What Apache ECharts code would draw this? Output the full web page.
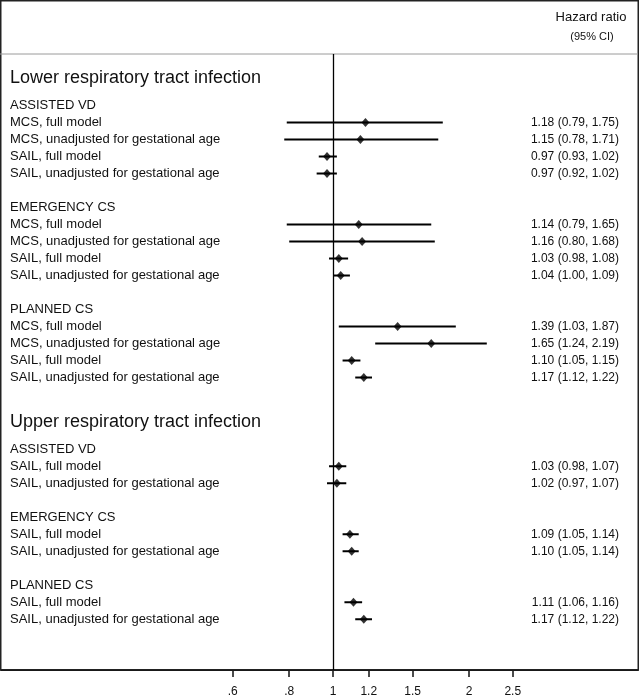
<!DOCTYPE html>
<html>
<head>
<meta charset="utf-8">
<script src="https://cdn.jsdelivr.net/npm/echarts@6/dist/echarts.min.js"></script>
<style>
html,body{margin:0;padding:0;background:#fff;}
#chart{width:640px;height:698px;}
</style>
</head>
<body>
<div id="chart"></div>
<script>
// ---- data ----
const sectionTitles = ['Lower respiratory tract infection', 'Upper respiratory tract infection'];
const groupNames = ['ASSISTED VD', 'EMERGENCY CS', 'PLANNED CS'];
const rowLabels = [
  'MCS, full model', 'MCS, unadjusted for gestational age', 'SAIL, full model', 'SAIL, unadjusted for gestational age',
  'MCS, full model', 'MCS, unadjusted for gestational age', 'SAIL, full model', 'SAIL, unadjusted for gestational age',
  'MCS, full model', 'MCS, unadjusted for gestational age', 'SAIL, full model', 'SAIL, unadjusted for gestational age',
  'SAIL, full model', 'SAIL, unadjusted for gestational age',
  'SAIL, full model', 'SAIL, unadjusted for gestational age',
  'SAIL, full model', 'SAIL, unadjusted for gestational age'
];
const rowSection = [0,0,0,0, 0,0,0,0, 0,0,0,0, 1,1, 1,1, 1,1];
const rowGroup   = [0,0,0,0, 1,1,1,1, 2,2,2,2, 0,0, 1,1, 2,2];
const hr = [1.18,1.15,0.97,0.97, 1.14,1.16,1.03,1.04, 1.39,1.65,1.10,1.17, 1.03,1.02, 1.09,1.10, 1.11,1.17];
const lo = [0.79,0.78,0.93,0.92, 0.79,0.80,0.98,1.00, 1.03,1.24,1.05,1.12, 0.98,0.97, 1.05,1.05, 1.06,1.12];
const hi = [1.75,1.71,1.02,1.02, 1.65,1.68,1.08,1.09, 1.87,2.19,1.15,1.22, 1.07,1.07, 1.14,1.14, 1.16,1.22];
const tickValues = [0.6, 0.8, 1, 1.2, 1.5, 2, 2.5];
const tickLabels = ['.6', '.8', '1', '1.2', '1.5', '2', '2.5'];
const headerLines = ['Hazard ratio', '(95% CI)'];

// ---- layout (row units) ----
const TITLE_START = 1.43, HEADER_AFTER_TITLE = 1.6, GROUP_GAP = 2, SECTION_GAP = 2.62;
const Y_MAX = 616 / 17;
const X_MIN = -332 / 196.2, X_MAX = 305 / 196.2;

const textItems = [];
const rowY = [];
let u = TITLE_START, prevS = -1, prevG = -1;
for (let i = 0; i < rowLabels.length; i++) {
  const s = rowSection[i], g = rowGroup[i];
  if (s !== prevS) {
    if (prevS !== -1) u += SECTION_GAP;
    textItems.push({ y: u, text: sectionTitles[s], kind: 'title' });
    u += HEADER_AFTER_TITLE;
    textItems.push({ y: u, text: groupNames[g], kind: 'group' });
    prevS = s; prevG = g;
  } else if (g !== prevG) {
    u += GROUP_GAP;
    textItems.push({ y: u, text: groupNames[g], kind: 'group' });
    prevG = g;
  }
  u += 1;
  rowY[i] = u;
  textItems.push({ y: u, text: rowLabels[i], kind: 'row' });
}

const FONT = '"Liberation Sans", Arial, sans-serif';
const chart = echarts.init(document.getElementById('chart'), null, { renderer: 'canvas' });

const fmt = v => v.toFixed(2);
const tickLn = tickValues.map(Math.log);

const option = {
  animation: false,
  backgroundColor: '#fff',
  grid: { left: 1, right: 2, top: 54, bottom: 28, containLabel: false },
  xAxis: {
    type: 'value', min: X_MIN, max: X_MAX,
    splitLine: { show: false },
    axisLine: { show: true, onZero: false, lineStyle: { color: '#111', width: 2 } },
    axisTick: { show: true, customValues: tickLn, length: 7, inside: false, lineStyle: { color: '#111', width: 1.5 } },
    axisLabel: {
      show: true, customValues: tickLn, margin: 16,
      color: '#111', fontSize: 12, fontFamily: FONT,
      formatter: v => {
        let best = 0;
        tickLn.forEach((t, k) => { if (Math.abs(t - v) < Math.abs(tickLn[best] - v)) best = k; });
        return tickLabels[best];
      }
    }
  },
  yAxis: { type: 'value', min: 0, max: Y_MAX, inverse: true, show: false },
  graphic: [
    { type: 'rect', shape: { x: 0.75, y: 0.75, width: 637.5, height: 669 }, style: { fill: 'none', stroke: '#222', lineWidth: 1.5 }, z: 1 },
    { type: 'line', shape: { x1: 0, y1: 54, x2: 638, y2: 54 }, style: { stroke: '#9a9a9a', lineWidth: 1 }, z: 1 },
    { type: 'text', x: 591, y: 17, style: { text: headerLines[0], font: '13px ' + FONT, fill: '#111', align: 'center', verticalAlign: 'middle' } },
    { type: 'text', x: 592, y: 37, style: { text: headerLines[1], font: '11px ' + FONT, fill: '#111', align: 'center', verticalAlign: 'middle' } }
  ],
  series: [
    {
      type: 'custom', name: 'labels',
      data: textItems.map(t => [X_MIN, t.y]),
      encode: { x: 0, y: 1 },
      renderItem: (params, api) => {
        const t = textItems[params.dataIndex];
        const p = api.coord([api.value(0), api.value(1)]);
        const size = t.kind === 'title' ? 18 : 13;
        return {
          type: 'text', x: params.coordSys.x + 9, y: p[1],
          style: { text: t.text, font: size + 'px ' + FONT, fill: '#111', align: 'left', verticalAlign: 'middle' }
        };
      }
    },
    {
      type: 'custom', name: 'values',
      data: hr.map((h, i) => [X_MAX, rowY[i]]),
      encode: { x: 0, y: 1 },
      renderItem: (params, api) => {
        const i = params.dataIndex;
        const p = api.coord([api.value(0), api.value(1)]);
        return {
          type: 'text', x: params.coordSys.x + params.coordSys.width - 19, y: p[1],
          style: { text: fmt(hr[i]) + ' (' + fmt(lo[i]) + ', ' + fmt(hi[i]) + ')', font: '12px ' + FONT, fill: '#111', align: 'right', verticalAlign: 'middle' }
        };
      }
    },
    {
      type: 'custom', name: 'ci',
      data: hr.map((h, i) => [Math.log(lo[i]), Math.log(hi[i]), rowY[i]]),
      encode: { x: [0, 1], y: 2 },
      renderItem: (params, api) => {
        const a = api.coord([api.value(0), api.value(2)]);
        const b = api.coord([api.value(1), api.value(2)]);
        return { type: 'line', shape: { x1: a[0], y1: a[1], x2: b[0], y2: b[1] }, style: { stroke: '#000', lineWidth: 2 } };
      },
      z: 3
    },
    {
      type: 'scatter', name: 'hr',
      data: hr.map((h, i) => [Math.log(h), rowY[i]]),
      symbol: 'diamond', symbolSize: [8, 9],
      itemStyle: { color: '#000' },
      z: 4,
      markLine: {
        silent: true, symbol: ['none', 'none'],
        label: { show: false },
        lineStyle: { color: '#000', width: 1.3, type: 'solid' },
        data: [{ xAxis: 0 }]
      }
    }
  ]
};
chart.setOption(option);
</script>
</body>
</html>
